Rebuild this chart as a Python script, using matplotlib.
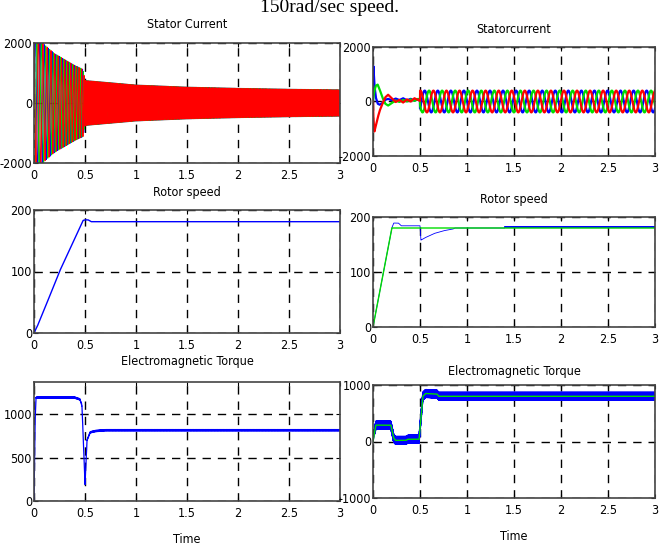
import numpy as np
import matplotlib.pyplot as plt
import matplotlib.font_manager as fm
from matplotlib.font_manager import FontProperties

plt.rcParams['font.family'] = ['Liberation Sans', 'DejaVu Sans']

# ---------------- data ----------------
t = np.linspace(0, 3, 12001)

# left column: stator current envelope (A) and supply frequency (Hz)
cur_env_t = [0, 0.05, 0.1, 0.2, 0.3, 0.4, 0.48, 0.5, 0.6, 0.8, 1.0, 1.5, 2.0, 2.5, 3.0]
cur_env_a = [2600, 2250, 1950, 1650, 1450, 1250, 1120, 750, 720, 660, 600, 530, 490, 460, 440]
cur_freq_t = [0, 0.48, 0.5, 3.0]
cur_freq_v = [20, 40, 70, 70]

# right column: stator current transient (t < 0.5) per phase
tr_t = [0, 0.004, 0.015, 0.03, 0.05, 0.07, 0.1, 0.13, 0.16, 0.2, 0.24, 0.28, 0.32, 0.36, 0.4, 0.44, 0.48, 0.5]
tr_a = [0, 1300, 600, 150, -80, -120, -60, 60, 100, 40, 110, 50, 120, 40, 100, 30, 80, 20]
tr_b = [0, 150, 400, 580, 620, 450, 150, -80, -150, -60, 40, -20, 60, 0, 80, 20, 100, 20]
tr_c = [0, -600, -1100, -900, -600, -350, -80, 150, 250, 120, -20, 60, -40, 80, 0, 120, 60, 20]
cur_amp_right = 400
cur_freq_right = 7.2
cur_peak_right = 0.55

# rotor speed (rad/s)
spd_l_t = [0, 0.03, 0.1, 0.25, 0.45, 0.48, 0.5, 0.53, 0.56, 3.0]
spd_l_v = [0, 10, 38, 100, 172, 183, 184, 184, 181, 181]

spd_ref_t = [0, 0.2, 3.0]
spd_ref_v = [0, 180, 180]
spd_r_t = [0, 0.2, 0.22, 0.27, 0.3, 0.5, 0.51, 0.55, 0.65, 0.75, 0.85, 0.87, 1.4, 3.0]
spd_r_v = [0, 180, 189, 189, 184, 184, 158, 162, 170, 175, 178, 180, 180, 180]
spd_r_ripple = 1.0   # after 1.4 s

# electromagnetic torque (N.m)
tq_l_t = [0, 0.01, 0.02, 0.4, 0.45, 0.47, 0.49, 0.5, 0.52, 0.55, 0.6, 0.7, 3.0]
tq_l_v = [0, 900, 1190, 1190, 1170, 1100, 500, 190, 700, 790, 805, 815, 815]
tq_l_ripple = 8

tq_ref_t = [0, 0.03, 0.19, 0.22, 0.24, 0.35, 0.37, 0.49, 0.53, 0.56, 0.68, 0.7, 3.0]
tq_ref_v = [0, 290, 290, 60, 20, 20, 40, 40, 800, 850, 840, 800, 800]
tq_r_ripple = 70

# narrow sans face for all axis texts, if one is installed
narrow = sorted(f.fname for f in fm.fontManager.ttflist
                if any(k in f.fname for k in ('Narrow', 'Condensed'))
                and not any(k in f.fname for k in ('Bold', 'Italic', 'Oblique', 'Light', 'Serif', 'Mono')))
if narrow:
    FP = FontProperties(fname=narrow[0], size=9)
else:
    FP = FontProperties(family='Liberation Sans', size=8)

# ---------------- figure ----------------
fig = plt.figure(figsize=(6.59, 5.47), dpi=100)
W, H = 659.0, 547.0


def box(left, right, top, bottom):
    return fig.add_axes([left / W, 1 - bottom / H, (right - left) / W, (bottom - top) / H])


def matlab_style(ax, yticks, ylim):
    ax.set_xlim(0, 3)
    ax.set_ylim(*ylim)
    ax.set_xticks([0, 0.5, 1, 1.5, 2, 2.5, 3])
    ax.set_xticklabels(['0', '0.5', '1', '1.5', '2', '2.5', '3'], fontproperties=FP)
    ax.set_yticks(yticks)
    ax.set_yticklabels([str(v) for v in yticks], fontproperties=FP)
    ax.tick_params(direction='in', length=3, width=0.8, top=True, right=True)
    ax.tick_params(axis='x', pad=4)
    ax.tick_params(axis='y', pad=1.5)
    ax.grid(True, color='black', linestyle=(0, (6, 5)), linewidth=1.0)
    for s in ax.spines.values():
        s.set_color('#444444')
        s.set_linewidth(1.2)


fig.text(330 / W, 1 - 12 / H, '150rad/sec speed.', family='Liberation Serif',
         fontsize=14, ha='center', va='baseline')

# --- stator current, left
ax = box(34, 340, 43, 163)
env = np.interp(t, cur_env_t, cur_env_a)
freq = np.interp(t, cur_freq_t, cur_freq_v)
theta = 2 * np.pi * np.cumsum(freq) * (t[1] - t[0])
for ph, c in zip([0, -2 * np.pi / 3, 2 * np.pi / 3], ['blue', '#00dd00', 'red']):
    ax.plot(t, env * np.sin(theta + ph), color=c, lw=0.7)
matlab_style(ax, [-2000, 0, 2000], (-2000, 2000))
ax.set_title('Stator Current', fontproperties=FP, pad=11)

# --- stator current, right
ax = box(373, 655, 47, 156)
w = 2 * np.pi * cur_freq_right
steady = t >= 0.5
for tr, ph, c in zip([tr_a, tr_b, tr_c], [0, -2 * np.pi / 3, 2 * np.pi / 3],
                     ['blue', '#00dd00', 'red']):
    y = np.interp(t, tr_t, tr)
    y[steady] = cur_amp_right * np.cos(w * (t[steady] - cur_peak_right) + ph)
    ax.plot(t, y, color=c, lw=1.6)
matlab_style(ax, [-2000, 0, 2000], (-2000, 2000))
ax.set_title('Statorcurrent', fontproperties=FP, pad=10)

# --- rotor speed, left
ax = box(34, 340, 210, 333)
ax.plot(t, np.interp(t, spd_l_t, spd_l_v), color='blue', lw=1.0)
matlab_style(ax, [0, 100, 200], (0, 200))
ax.set_title('Rotor speed', fontproperties=FP, pad=10)

# --- rotor speed, right
ax = box(373, 655, 217, 327)
spd = np.interp(t, spd_r_t, spd_r_v)
late = t >= 1.4
spd[late] += 1.5 + spd_r_ripple * np.sin(2 * np.pi * 230 * t[late])
ax.plot(t, spd, color='blue', lw=0.6)
ax.plot(t, np.interp(t, spd_ref_t, spd_ref_v), color='#00dd00', lw=1.0)
matlab_style(ax, [0, 100, 200], (0, 200))
ax.set_title('Rotor speed', fontproperties=FP, pad=10)

# --- torque, left
ax = box(34, 340, 382, 501)
tq = np.interp(t, tq_l_t, tq_l_v)
tq += tq_l_ripple * np.sin(2 * np.pi * 170 * t) * (t > 0.02)
ax.plot(t, tq, color='blue', lw=0.9)
matlab_style(ax, [0, 500, 1000], (0, 1370))
ax.set_title('Electromagnetic Torque', fontproperties=FP, pad=12)
ax.set_xlabel('Time', fontproperties=FP, labelpad=10)

# --- torque, right
ax = box(373, 655, 385, 498)
ref = np.interp(t, tq_ref_t, tq_ref_v)
ax.plot(t, ref + tq_r_ripple * np.sin(2 * np.pi * 600 * t) * (t > 0.02),
        color='blue', lw=1.0)
ax.plot(t, ref, color='#00dd00', lw=1.0)
matlab_style(ax, [-1000, 0, 1000], (-1000, 1000))
ax.set_title('Electromagnetic Torque', fontproperties=FP, pad=7)
ax.set_xlabel('Time', fontproperties=FP, labelpad=10)

fig.savefig('out.png', dpi=100)
